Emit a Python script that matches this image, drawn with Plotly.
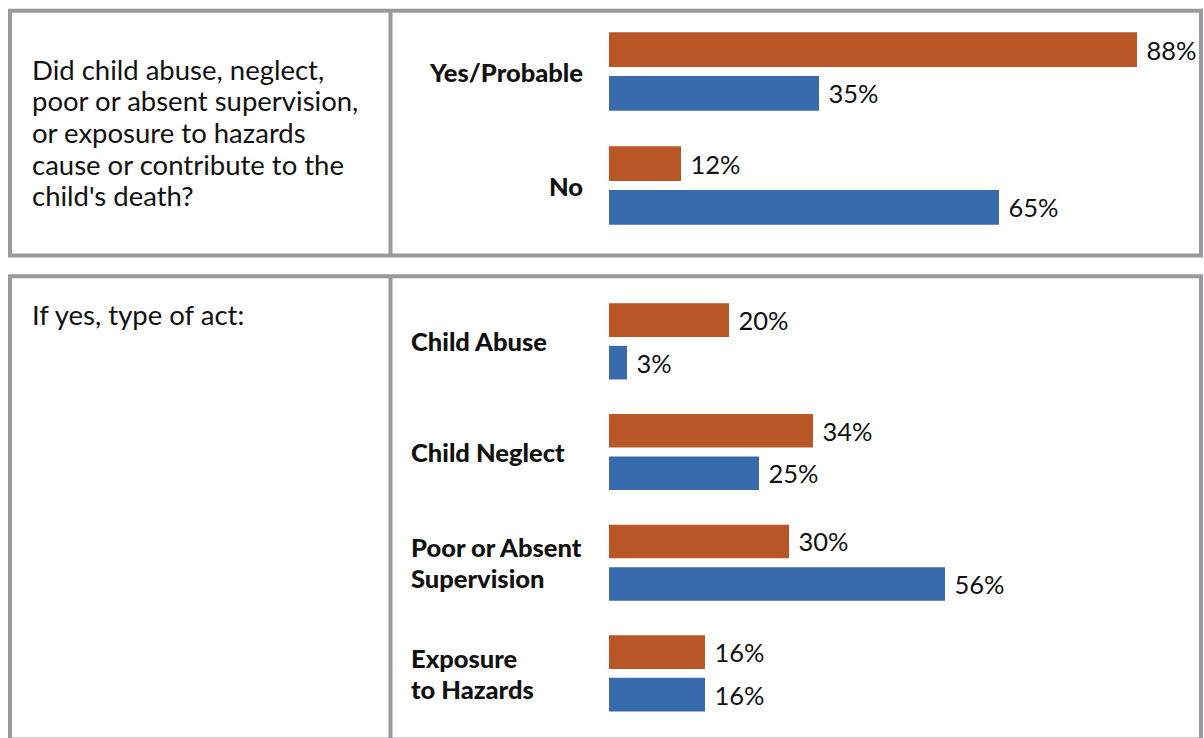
import plotly.graph_objects as go

# ---------------- data ----------------
top_categories = ["Yes/Probable", "No"]
top_series1 = [88, 12]   # orange
top_series2 = [35, 65]   # blue

bottom_categories = ["Child Abuse", "Child Neglect",
                     "Poor or Absent<br>Supervision", "Exposure<br>to Hazards"]
bottom_series1 = [20, 34, 30, 16]   # orange
bottom_series2 = [3, 25, 56, 16]    # blue

question_top_lines = ["Did child abuse, neglect,", "poor or absent supervision,",
                      "or exposure to hazards", "cause or contribute to the",
                      "child's death?"]
question_bottom = "If yes, type of act:"

# ---------------- style ----------------
W, H = 1204, 738
ORANGE = "#B95626"
BLUE = "#386AAE"
GRAY = "#9A9A9E"
FONT = "Lato"
TXT = "#111111"
NBSP = "\u00a0"


def px(x):
    return x / W


def py(y):
    return 1 - y / H


fig = go.Figure()

def add_pair(cats, s1, s2, xa, ya):
    for vals, color, name in ((s1, ORANGE, "Series 1"), (s2, BLUE, "Series 2")):
        fig.add_trace(go.Bar(
            y=cats, x=vals, orientation="h", name=name,
            marker=dict(color=color, line=dict(width=0)),
            text=[f"{NBSP}{v}%" for v in vals],
            textposition="outside", cliponaxis=False, constraintext="none",
            textfont=dict(family=FONT, size=25.5, color=TXT),
            xaxis=xa, yaxis=ya, showlegend=False, hoverinfo="skip",
        ))

add_pair(top_categories, top_series1, top_series2, "x", "y")
add_pair(bottom_categories, bottom_series1, bottom_series2, "x2", "y2")

xdom = [px(609), px(1179)]
xcommon = dict(range=[0, 95], domain=xdom, showgrid=False, zeroline=False,
               showticklabels=False, showline=False, fixedrange=True)
ycommon = dict(type="category", showgrid=False, zeroline=False,
               showticklabels=False, showline=False, fixedrange=True)

fig.update_layout(
    width=W, height=H,
    margin=dict(l=0, r=0, t=0, b=0),
    paper_bgcolor="white", plot_bgcolor="white",
    barmode="group", bargap=0.232, bargroupgap=0.209,
    font=dict(family=FONT, size=24, color=TXT),
    xaxis=dict(**xcommon, anchor="y"),
    xaxis2=dict(**xcommon, anchor="y2"),
    yaxis=dict(**ycommon, anchor="x", categoryarray=top_categories,
               domain=[py(253), py(12)], range=[1.592, -0.522]),
    yaxis2=dict(**ycommon, anchor="x2", categoryarray=bottom_categories,
                domain=[py(735), py(280)], range=[3.557, -0.555]),
)

bold = dict(family=FONT, size=25.5, color=TXT, weight=900)
regular = dict(family=FONT, size=27.5, color=TXT)

annotations = []
for c in top_categories:
    annotations.append(dict(text=c, x=px(585), xref="paper", xanchor="right",
                            y=c, yref="y", yanchor="middle", showarrow=False,
                            align="right", font=bold))
for c in bottom_categories:
    parts = c.split("<br>")
    n = len(parts)
    for i, p in enumerate(parts):
        annotations.append(dict(text=p, x=px(409), xref="paper", xanchor="left",
                                y=c, yref="y2", yanchor="middle",
                                yshift=((n - 1) / 2 - i) * 31,
                                showarrow=False, align="left", font=bold))
for i, t in enumerate(question_top_lines):
    annotations.append(dict(text=t, x=px(30), xref="paper", xanchor="left",
                            y=py(69 + i * 31.7), yref="paper", yanchor="middle",
                            showarrow=False, align="left", font=regular))
annotations.append(dict(text=question_bottom, x=px(30), xref="paper", xanchor="left",
                        y=py(315), yref="paper", yanchor="middle", showarrow=False,
                        align="left", font=regular))
fig.update_layout(annotations=annotations)

line = dict(color=GRAY, width=4)
shapes = [
    dict(type="rect", xref="paper", yref="paper", x0=px(10), x1=px(1201),
         y0=py(255.5), y1=py(10.8), line=line, fillcolor="rgba(0,0,0,0)"),
    dict(type="line", xref="paper", yref="paper", x0=px(390.5), x1=px(390.5),
         y0=py(255.5), y1=py(10.8), line=line),
    dict(type="rect", xref="paper", yref="paper", x0=px(10), x1=px(1201),
         y0=py(739.5), y1=py(276.2), line=line, fillcolor="rgba(0,0,0,0)"),
    dict(type="line", xref="paper", yref="paper", x0=px(390.5), x1=px(390.5),
         y0=py(739.5), y1=py(276.2), line=line),
]
fig.update_layout(shapes=shapes)

fig.write_html("out.html", config={"displayModeBar": False},
               post_script="document.body.style.margin='0';document.body.style.overflow='hidden';")
